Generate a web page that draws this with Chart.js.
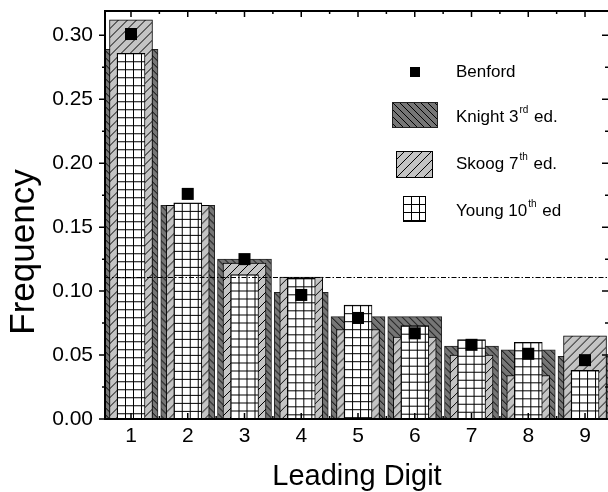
<!DOCTYPE html>
<html lang="en">
<head>
<meta charset="UTF-8">
<title>Leading digit frequencies</title>
<script src="https://cdn.jsdelivr.net/npm/chart.js"></script>
<style>
  html, body { margin: 0; padding: 0; background: #fff; overflow: hidden; }
  #wrap { width: 608px; height: 492px; }
</style>
</head>
<body>
<div id="wrap"><canvas id="grafico" width="608" height="492"></canvas></div>
<script>
// values
const digits  = [1, 2, 3, 4, 5, 6, 7, 8, 9];
const benford = [0.301, 0.176, 0.125, 0.097, 0.079, 0.067, 0.058, 0.051, 0.046];
const knight  = [0.289, 0.167, 0.125, 0.099, 0.080, 0.080, 0.057, 0.054, 0.049];
const skoog   = [0.312, 0.167, 0.122, 0.111, 0.070, 0.064, 0.050, 0.034, 0.065];
const young   = [0.286, 0.169, 0.113, 0.110, 0.089, 0.073, 0.062, 0.060, 0.038];
const uniform = 1 / 9;
const yTicks  = [0, 0.05, 0.10, 0.15, 0.20, 0.25, 0.30];
const names   = ['Benford', 'Knight 3rd ed.', 'Skoog 7th ed.', 'Young 10th ed'];

const FONT = "'Liberation Sans', Arial, sans-serif";

function tile(w, h, fill, draw) {
  const c = document.createElement('canvas');
  c.width = w; c.height = h;
  const g = c.getContext('2d');
  g.fillStyle = fill;
  g.fillRect(0, 0, w, h);
  g.strokeStyle = '#000';
  g.lineWidth = 1;
  draw(g, w, h);
  return c;
}

const tiles = {
  knight: tile(7, 7, '#767676', (g, w, h) => {
    g.beginPath();
    for (let k = -1; k <= 1; k++) { g.moveTo(k * w, 0); g.lineTo(k * w + w, h); }
    g.stroke();
  }),
  skoog: tile(9, 9, '#c4c4c4', (g, w, h) => {
    g.beginPath();
    for (let k = -1; k <= 1; k++) { g.moveTo(k * w, h); g.lineTo(k * w + w, 0); }
    g.stroke();
  }),
  young: tile(8, 8, '#fff', (g, w, h) => {
    g.fillStyle = '#000';
    g.fillRect(0, 0, w, 1);
    g.fillRect(0, 0, 1, h);
  })
};

// pattern anchored at the top-left corner of every bar
function barFill(t, thick) {
  return function (c) {
    const chart = c.chart;
    const p = chart.ctx.createPattern(t, 'repeat');
    if (c.type !== 'data' || !c.parsed) return p;
    const x0 = chart.scales.x.getPixelForValue(c.parsed.x) - thick / 2;
    const y0 = chart.scales.y.getPixelForValue(c.parsed.y);
    p.setTransform(new DOMMatrix().translate(x0, y0));
    return p;
  };
}

const pts = arr => digits.map((d, i) => ({ x: d, y: arr[i] }));

function drawLabel(ctx, text, x, y) {
  const m = text.match(/^(.*?\d+)(st|nd|rd|th)(.*)$/);
  ctx.textAlign = 'left';
  ctx.textBaseline = 'middle';
  ctx.font = '17px ' + FONT;
  if (!m) { ctx.fillText(text, x, y); return; }
  ctx.fillText(m[1], x, y);
  let cx = x + ctx.measureText(m[1]).width + 1;
  ctx.font = '10px ' + FONT;
  ctx.fillText(m[2], cx, y - 7);
  cx += ctx.measureText(m[2]).width + 1;
  ctx.font = '17px ' + FONT;
  ctx.fillText(m[3], cx, y);
}

const decor = {
  id: 'decor',
  afterDatasetsDraw(chart) {
    const { ctx, chartArea: a, scales: { y } } = chart;
    const yu = Math.round(y.getPixelForValue(uniform)) + 0.5;
    ctx.save();
    ctx.strokeStyle = '#000';
    ctx.lineWidth = 1;
    ctx.setLineDash([5, 2, 1.5, 2]);
    ctx.beginPath();
    ctx.moveTo(a.left, yu);
    ctx.lineTo(a.right, yu);
    ctx.stroke();
    ctx.restore();
  },
  afterDraw(chart) {
    const { ctx, chartArea: a, scales: { x, y } } = chart;
    ctx.save();
    ctx.strokeStyle = '#000';
    ctx.fillStyle = '#000';

    // frame (right side sits just past the picture edge)
    ctx.lineWidth = 2;
    ctx.strokeRect(a.left, a.top, a.right + 1 - a.left, a.bottom - a.top);

    // ticks: left outward, right / top / bottom inward
    ctx.lineWidth = 1.5;
    ctx.beginPath();
    const yMaj = y.ticks.map(t => t.value);
    const yMin = yMaj.map(v => v + 0.025).filter(v => v <= y.max);
    yMaj.forEach(v => {
      const p = y.getPixelForValue(v);
      ctx.moveTo(a.left - 6, p); ctx.lineTo(a.left, p);
      ctx.moveTo(a.right, p); ctx.lineTo(a.right - 6, p);
    });
    yMin.forEach(v => {
      const p = y.getPixelForValue(v);
      ctx.moveTo(a.left - 3, p); ctx.lineTo(a.left, p);
      ctx.moveTo(a.right, p); ctx.lineTo(a.right - 3, p);
    });
    const xMaj = x.ticks.map(t => t.value);
    const xMin = xMaj.map(v => v + 0.5).filter(v => v <= x.max);
    xMaj.forEach(v => {
      const p = x.getPixelForValue(v);
      ctx.moveTo(p, a.top); ctx.lineTo(p, a.top + 6);
      ctx.moveTo(p, a.bottom); ctx.lineTo(p, a.bottom - 6);
    });
    xMin.forEach(v => {
      const p = x.getPixelForValue(v);
      ctx.moveTo(p, a.top); ctx.lineTo(p, a.top + 3);
      ctx.moveTo(p, a.bottom); ctx.lineTo(p, a.bottom - 3);
    });
    ctx.stroke();

    // axis titles
    ctx.textAlign = 'center';
    ctx.textBaseline = 'alphabetic';
    ctx.font = '29px ' + FONT;
    ctx.fillText('Leading Digit', 357, 485);
    ctx.save();
    ctx.translate(34, 252);
    ctx.rotate(-Math.PI / 2);
    ctx.font = '35px ' + FONT;
    ctx.fillText('Frequency', 0, 0);
    ctx.restore();

    // legend
    ctx.fillRect(410, 67, 10, 10);
    drawLabel(ctx, names[0], 456, 72);

    const boxes = [
      [tiles.knight, 392, 102, 46, 26, '#222', names[1], 117],
      [tiles.skoog, 396, 151, 37, 27, '#000', names[2], 164],
      [tiles.young, 403, 196, 23, 26, '#000', names[3], 211]
    ];
    boxes.forEach(([t, bx, by, bw, bh, bc, txt, ty]) => {
      const p = ctx.createPattern(t, 'repeat');
      p.setTransform(new DOMMatrix().translate(bx, by));
      ctx.fillStyle = p;
      ctx.fillRect(bx, by, bw, bh);
      ctx.strokeStyle = bc;
      ctx.lineWidth = 1;
      ctx.strokeRect(bx + 0.5, by + 0.5, bw - 1, bh - 1);
      ctx.fillStyle = '#000';
      drawLabel(ctx, txt, 456, ty);
    });
    ctx.restore();
  }
};

new Chart(document.getElementById('grafico'), {
  type: 'bar',
  data: {
    datasets: [
      {
        type: 'scatter', label: names[0], data: pts(benford),
        pointStyle: 'rect', pointRadius: 8.5, backgroundColor: '#000',
        borderWidth: 0, order: 0
      },
      {
        label: names[3], data: pts(young), grouped: false, barThickness: 28,
        backgroundColor: barFill(tiles.young, 28), borderColor: '#000',
        borderWidth: 1, order: 1
      },
      {
        label: names[2], data: pts(skoog), grouped: false, barThickness: 43,
        backgroundColor: barFill(tiles.skoog, 43), borderColor: '#000',
        borderWidth: 1, order: 2
      },
      {
        label: names[1], data: pts(knight), grouped: false, barThickness: 54,
        backgroundColor: barFill(tiles.knight, 54), borderColor: '#222',
        borderWidth: 1, order: 3
      }
    ]
  },
  options: {
    responsive: false,
    animation: false,
    layout: { autoPadding: false, padding: { left: 0, top: 11, right: 0, bottom: 0 } },
    plugins: { legend: { display: false }, tooltip: { enabled: false } },
    scales: {
      x: {
        type: 'linear', min: 0.542, max: 9.405, offset: false,
        grid: { display: false, drawTicks: false }, border: { display: false },
        afterBuildTicks: s => { s.ticks = digits.map(v => ({ value: v })); },
        afterFit: s => { s.height = 73; s.paddingLeft = 0; s.paddingRight = 0; },
        ticks: { color: '#000', font: { family: FONT, size: 21 }, padding: 5,
                 callback: v => String(v) }
      },
      y: {
        type: 'linear', min: 0, max: 0.319,
        grid: { display: false, drawTicks: false }, border: { display: false },
        afterBuildTicks: s => { s.ticks = yTicks.map(v => ({ value: v })); },
        afterFit: s => { s.width = 105; s.paddingTop = 0; s.paddingBottom = 0; },
        ticks: { color: '#000', font: { family: FONT, size: 21 }, padding: 12,
                 callback: v => v.toFixed(2) }
      }
    }
  },
  plugins: [decor]
});
</script>
</body>
</html>
